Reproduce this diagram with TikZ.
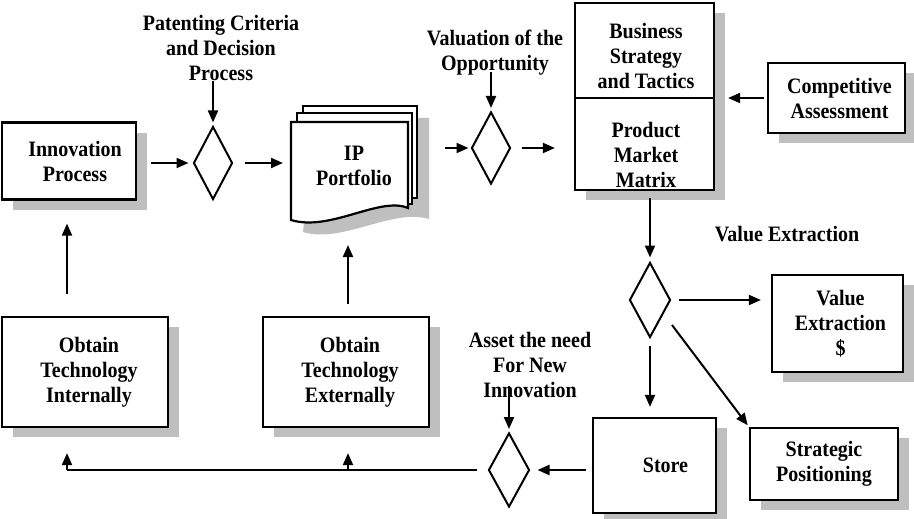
\documentclass[tikz,border=0pt]{standalone}
\usepackage{fontspec}
\setmainfont{Liberation Serif}[FakeStretch=0.91]
\usetikzlibrary{arrows.meta,shapes.geometric,shadows}

\begin{document}
\begin{tikzpicture}[x=1pt,y=-1pt,
  txt/.style={font=\fontsize{22}{25}\selectfont\bfseries, align=center, inner sep=0pt},
  shade/.style={fill=gray!50},
  box/.style={txt, draw, line width=2.2pt, fill=white,
    general shadow={shade, shadow xshift=11pt, shadow yshift=-10pt}},
  dia/.style={diamond, draw, line width=2pt, fill=white, inner sep=0pt},
  arr/.style={line width=2pt, -{Triangle[length=12pt,width=10pt]}},
  plain/.style={line width=2pt}]

% canvas
\fill[white] (0,0) rectangle (914,519);
\useasboundingbox (0,0) rectangle (914,519);

% process boxes
\node[box, minimum width=134pt, minimum height=77pt] (innov) at (69,161) {\hspace*{12pt}Innovation\\\hspace*{12pt}Process};
\node[box, minimum width=166pt, minimum height=110pt] (intl) at (85,372) {\hspace*{8pt}Obtain\\\hspace*{8pt}Technology\\\hspace*{8pt}Internally};
\node[box, minimum width=166pt, minimum height=110pt] (extl) at (346,372) {\hspace*{8pt}Obtain\\\hspace*{8pt}Technology\\\hspace*{8pt}Externally};
\node[box, minimum width=139pt, minimum height=187pt] (biz) at (644.5,96.5) {};
\node[box, minimum width=137pt, minimum height=70pt] (comp) at (836.5,98) {\hspace*{6pt}Competitive\\\hspace*{6pt}Assessment};
\node[box, minimum width=131pt, minimum height=97pt] (valx) at (837.5,323.5) {\hspace*{6pt}Value\\\hspace*{6pt}Extraction\\\hspace*{6pt}\$};
\node[box, minimum width=148pt, minimum height=72pt] (strat) at (824,464) {Strategic\\Positioning};
\node[box, minimum width=123pt, minimum height=95pt] (store) at (654.5,465.5) {\hspace*{22pt}Store};

% two-part strategy box
\draw[line width=2pt] (biz.west |- 0,98) -- (biz.east |- 0,98);
\node[txt] (bst) at (646,56) {Business\\Strategy\\and Tactics};
\node[txt] (pmm) at (646,155) {Product\\Market\\Matrix};

% IP portfolio: stacked document pages
\fill[shade] (315,118) -- (429,118) -- (429,219) .. controls (392,208) and (342,244) .. (303,232) -- cycle;
\draw[line width=1.6pt, fill=white] (303,106) rectangle (417,198);
\draw[line width=1.6pt, fill=white] (297,113) rectangle (412,204);
\draw[line width=2.2pt, fill=white] (291,122) -- (408,122) -- (408,208)
  .. controls (380,196) and (330,232) .. (291,220) -- cycle;
\node[txt] (ip) at (354,166) {IP\\Portfolio};
\coordinate (ipfoot) at (348,222);

% decision diamonds
\node[dia, minimum width=39pt, minimum height=73pt] (d1) at (213,163) {};
\node[dia, minimum width=39pt, minimum height=72pt] (d2) at (491,148) {};
\node[dia, minimum width=41pt, minimum height=75pt] (d3) at (650,300) {};
\node[dia, minimum width=41pt, minimum height=74pt] (d4) at (509,470) {};

% labels
\node[txt] (pat) at (221,48) {Patenting Criteria\\and Decision\\Process};
\node[txt] (val) at (495,53) {Valuation of the\\Opportunity};
\node[txt] (vxl) at (787,234) {Value Extraction};
\node[txt] (asset) at (530,365) {Asset the need\\For New\\Innovation};

% junctions of the return line
\coordinate (j1) at (67,470);
\coordinate (j2) at (348,470);

% main flow
\draw[arr, shorten <=14pt, shorten >=4pt] (innov.east |- d1) -- (d1.west);
\draw[arr, shorten <=11pt, shorten >=8pt] (d1.east) -- (291,163);
\draw[arr, shorten <=37pt, shorten >=2pt] (408,148) -- (d2.west);
\draw[arr, shorten <=10pt, shorten >=19pt] (d2.east) -- (biz.west |- d2);
\draw[arr, shorten <=3pt, shorten >=13pt] (comp.west) -- (biz.east |- comp);
\draw[arr, shorten <=7pt, shorten >=4pt] (d3 |- biz.south) -- (d3.north);
\draw[arr, shorten <=7pt, shorten >=10pt] (d3.east) -- (valx.west |- d3);
\draw[arr, shorten <=7pt, shorten >=10pt] (d3.south) -- (d3 |- store.north);
\draw[arr, shorten >=2pt] ([shift={(22,25)}]d3.center) -- (strat.north west);
\draw[arr, shorten <=6pt, shorten >=7pt] (store.west |- d4) -- (d4.east);

% label pointers
\draw[arr, shorten >=3pt] (d1 |- pat.south) -- (d1.north);
\draw[arr, shorten <=-4pt, shorten >=3pt] (d2 |- val.south) -- (d2.north);
\draw[arr, shorten <=-12pt, shorten >=3pt] (d4 |- asset.south) -- (d4.north);

% return line to the technology sources
\draw[plain, shorten <=11pt] (d4.west) -- (j1);
\draw[arr, shorten >=25pt] (j1) -- (j1 |- intl.south);
\draw[arr, shorten >=25pt] (j2) -- (j2 |- extl.south);
\draw[arr, shorten <=22pt, shorten >=23pt] (j1 |- intl.north) -- (j1 |- innov.south);
\draw[arr, shorten <=12pt, shorten >=23pt] (j2 |- extl.north) -- (ipfoot);
\end{tikzpicture}
\end{document}
